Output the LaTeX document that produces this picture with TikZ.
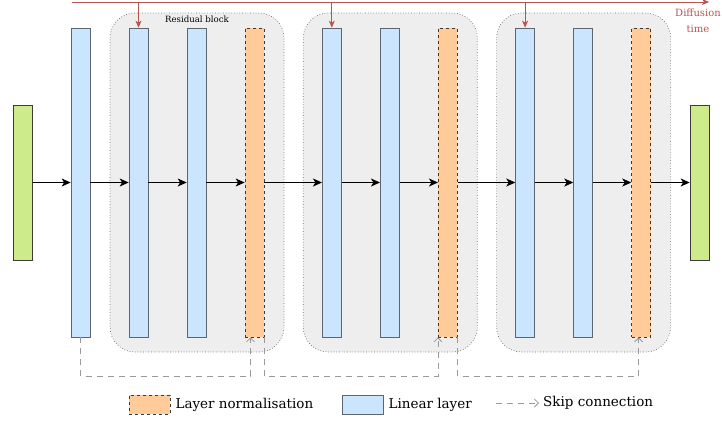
\documentclass[tikz,border=0pt]{standalone}
\usepackage{fontspec}
\setmainfont{DejaVu Serif}
\usetikzlibrary{arrows.meta,positioning}
\definecolor{linfill}{HTML}{CCE5FF}
\definecolor{linedge}{HTML}{5C6670}
\definecolor{normfill}{HTML}{FFCC99}
\definecolor{normedge}{HTML}{3A3A3A}
\definecolor{iofill}{HTML}{CDEB8B}
\definecolor{blockfill}{HTML}{EEEEEE}
\definecolor{blockedge}{HTML}{6A6A6A}
\definecolor{skipgray}{HTML}{9A9A9A}
\definecolor{timered}{HTML}{B85450}

\tikzset{
  bar/.style={minimum width=19pt, minimum height=309pt, inner sep=0pt, line width=0.7pt},
  linear/.style={bar, draw=linedge, fill=linfill},
  norm/.style={bar, draw=normedge, fill=normfill, dashed},
  io/.style={bar, draw=normedge, fill=iofill, minimum height=155pt},
  block/.style={draw=blockedge, line width=0.7pt, dotted, fill=blockfill, rounded corners=25pt,
    minimum width=174pt, minimum height=339pt, inner sep=0pt},
  flow/.style={-{Stealth[length=9pt,width=8pt,inset=2.5pt]}, line width=0.8pt},
  skip/.style={draw=skipgray, line width=0.8pt, dash pattern=on 6pt off 5pt,
    -{Straight Barb[length=4pt,width=8pt]}},
  timeline/.style={draw=timered, line width=0.7pt, -{Stealth[length=7pt,width=6pt,inset=2pt]}},
  legtext/.style={inner sep=0pt, font=\fontsize{13.5}{15}\selectfont}
}

\begin{document}
\begin{tikzpicture}[x=1pt, y=-1pt]
\useasboundingbox (0,0) rectangle (722,421);

% residual blocks
\foreach \i in {1,2,3} {
  \pgfmathsetmacro{\xa}{138.5+193.3*(\i-1)}
  \node[block] (blk\i) at (\xa+58.5,182.5) {};
  \node[linear] (la\i) at (\xa,182.5) {};
  \node[linear] (lb\i) at (\xa+58,182.5) {};
  \node[norm] (n\i) at (\xa+116,182.5) {};
}
\node[font=\fontsize{8.6}{10}\selectfont, inner sep=0pt] (blklab) at (197,19) {Residual block};

\node[io] (in) at (23,182.5) {};
\node[linear] (l0) at (80.5,182.5) {};
\node[io] (out) at (699.5,182.5) {};

% forward path
\foreach \a/\b in {in/l0, l0/la1, la1/lb1, lb1/n1, n1/la2, la2/lb2, lb2/n2,
                   n2/la3, la3/lb3, lb3/n3, n3/out}
  \draw[flow] (\a) -- (\b);

% diffusion time
\coordinate (tstart) at (72,2);
\coordinate (tend) at (709,2);
\draw[timeline] (tstart) -- (tend);
\foreach \i in {1,2,3}
  \draw[timeline] (la\i.north |- tstart) -- (la\i.north);
\node[text=timered, align=center, inner sep=0pt,
  font=\fontsize{10}{16}\selectfont] (tlab) at (698,21) {Diffusion\\time};

% skip connections
\draw[skip] (l0.south) -- ++(0,39) -| ([xshift=-4pt]n1.south);
\draw[skip] (n1.south east) -- ++(0,39) -| (n2.south west);
\draw[skip] (n2.south east) -- ++(0,39) -| ([xshift=-2.5pt]n3.south);

% legend
\node[norm, minimum width=41pt, minimum height=19pt] (kn) at (149.5,404.5) {};
\node[legtext, right=5pt of kn] (kntext) {Layer normalisation};
\node[linear, minimum width=41pt, minimum height=19pt] (kl) at (362.5,404.5) {};
\node[legtext, right=5pt of kl] (kltext) {Linear layer};
\coordinate (ks) at (496,403);
\coordinate (ke) at (539,403);
\draw[skip] (ks) -- (ke);
\node[legtext, anchor=west] (kstext) at (543,403) {Skip connection};
\end{tikzpicture}
\end{document}
